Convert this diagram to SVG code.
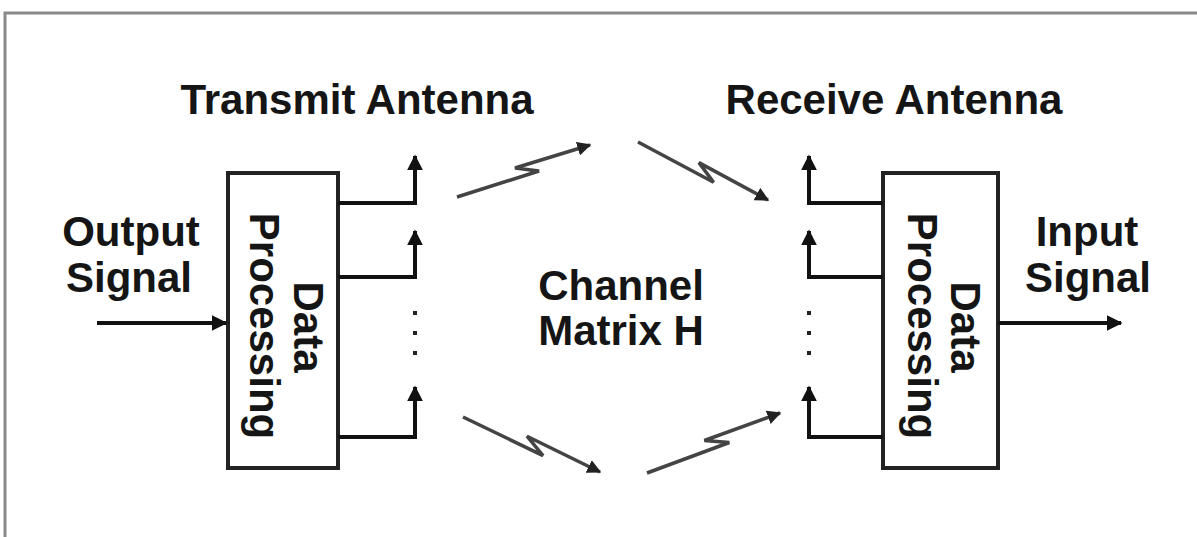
<svg xmlns="http://www.w3.org/2000/svg" width="1197" height="537" viewBox="0 0 1197 537">
<style>
  text { font-family: "Liberation Sans", Arial, sans-serif; font-size: 42px; font-weight: bold; fill: #151515; }
  .box { fill: #fff; stroke: #222; stroke-width: 4; }
  .wire { fill: none; stroke: #111; stroke-width: 4; }
  .bolt { fill: none; stroke: #444; stroke-width: 3.5; stroke-linejoin: miter; }
  .dot { fill: #222; }
</style>
<defs>
  <marker id="ah" viewBox="0 0 10 10" refX="9" refY="5" markerWidth="4" markerHeight="4" orient="auto" markerUnits="strokeWidth">
    <path d="M0,0 L10,5 L0,10 Z" fill="#111"/>
  </marker>
  <marker id="bh" viewBox="0 0 10 10" refX="9" refY="5" markerWidth="4" markerHeight="4" orient="auto" markerUnits="strokeWidth">
    <path d="M0,0 L10,5 L0,10 Z" fill="#222"/>
  </marker>
</defs>
<rect width="1197" height="537" fill="#fff"/>
<g id="frame">
  <path d="M5,537 V13 H1197" fill="none" stroke="#8a8a8a" stroke-width="3"/>
</g>
<g id="tx-label"><text x="357" y="114" text-anchor="middle">Transmit Antenna</text></g>
<g id="rx-label"><text x="894" y="114" text-anchor="middle">Receive Antenna</text></g>
<g id="output-signal">
  <text x="131" y="246" text-anchor="middle">Output</text>
  <text x="129" y="292" text-anchor="middle">Signal</text>
</g>
<g id="input-signal">
  <text x="1087" y="246" text-anchor="middle">Input</text>
  <text x="1088" y="292" text-anchor="middle">Signal</text>
</g>
<g id="channel">
  <text x="621" y="300" text-anchor="middle">Channel</text>
  <text x="621" y="345" text-anchor="middle">Matrix H</text>
</g>
<g id="tx-box">
  <rect class="box" x="228" y="173" width="110" height="295"/>
  <text transform="translate(294,327) rotate(90)" text-anchor="middle">Data</text>
  <text transform="translate(250,326) rotate(90)" text-anchor="middle">Processing</text>
</g>
<g id="rx-box">
  <rect class="box" x="883" y="173" width="115" height="295"/>
  <text transform="translate(951,327) rotate(90)" text-anchor="middle">Data</text>
  <text transform="translate(908,326) rotate(90)" text-anchor="middle">Processing</text>
</g>
<g id="connectors">
  <path class="wire" d="M97,323 H226" marker-end="url(#ah)"/>
  <path class="wire" d="M998,323 H1121" marker-end="url(#ah)"/>
  <path class="wire" d="M338,203 H415 V156" marker-end="url(#ah)"/>
  <path class="wire" d="M338,277 H415 V231" marker-end="url(#ah)"/>
  <path class="wire" d="M338,437 H415 V387" marker-end="url(#ah)"/>
  <path class="wire" d="M883,203 H809 V156" marker-end="url(#ah)"/>
  <path class="wire" d="M883,277 H809 V231" marker-end="url(#ah)"/>
  <path class="wire" d="M883,437 H809 V387" marker-end="url(#ah)"/>
  <rect class="dot" x="413" y="311" width="4" height="4"/>
  <rect class="dot" x="413" y="331" width="4" height="4"/>
  <rect class="dot" x="413" y="351" width="4" height="4"/>
  <rect class="dot" x="807" y="311" width="4" height="4"/>
  <rect class="dot" x="807" y="331" width="4" height="4"/>
  <rect class="dot" x="807" y="351" width="4" height="4"/>
  <polyline class="bolt" points="457,197 539,171 515,168 590,145" marker-end="url(#bh)"/>
  <polyline class="bolt" points="638,142 713.6,182.3 698.9,162.6 768,200" marker-end="url(#bh)"/>
  <polyline class="bolt" points="463,417 543,455.6 527,436.2 600,472" marker-end="url(#bh)"/>
  <polyline class="bolt" points="647,473 729.3,442.5 704.4,440.5 780,413" marker-end="url(#bh)"/>
</g>
</svg>
